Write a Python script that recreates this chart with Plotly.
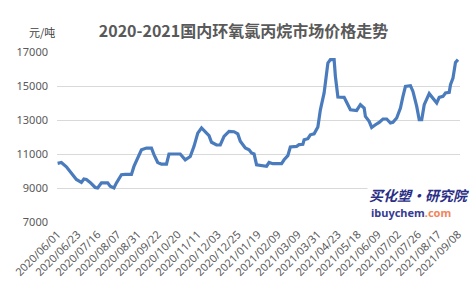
import plotly.graph_objects as go

# business-day index (category position) and price (元/吨)
day_index = [0, 3, 7, 11, 15, 19, 21, 23, 26, 30, 32, 35, 40, 42, 45, 47, 51, 54, 59, 61,
             64, 67, 71, 75, 77, 80, 83, 87, 89, 94, 98, 102, 106, 109, 112, 115, 118, 121, 123, 127,
             130, 133, 137, 141, 144, 146, 150, 153, 155, 157, 159, 162, 167, 169, 172, 179, 181, 184, 186, 191,
             193, 196, 197, 200, 202, 205, 208, 210, 213, 216, 218, 221, 222, 224, 229, 231, 234, 239, 242, 245,
             246, 249, 251, 254, 257, 260, 263, 266, 268, 271, 274, 276, 278, 282, 284, 287, 289, 291, 293, 297,
             300, 303, 305, 308, 310, 313, 314, 316, 318, 320]
price = [10450, 10500, 10250, 9900, 9500, 9330, 9530, 9500, 9330, 9030, 9000, 9300, 9300, 9100, 9000, 9300, 9780, 9800, 9800, 10270,
         10760, 11250, 11350, 11350, 10960, 10500, 10400, 10400, 11000, 11000, 11000, 10660, 10850, 11450, 12230, 12530, 12280, 12080, 11690, 11530,
         11530, 12040, 12330, 12310, 12180, 11750, 11350, 11250, 11060, 11000, 10370, 10320, 10280, 10500, 10430, 10430, 10660, 10900, 11410, 11450,
         11550, 11570, 11840, 11900, 12130, 12190, 12590, 13600, 14590, 16350, 16550, 16550, 15570, 14350, 14330, 14040, 13600, 13560, 13900, 13700,
         13210, 12920, 12560, 12720, 12860, 13060, 13060, 12820, 12860, 13120, 13700, 14390, 14980, 15020, 14680, 13800, 13020, 13020, 13900, 14550,
         14300, 14000, 14330, 14390, 14590, 14630, 15080, 15470, 16390, 16550]

tick_labels = ["2020/06/01", "2020/06/23", "2020/07/16", "2020/08/07", "2020/08/31", "2020/09/22",
               "2020/10/20", "2020/11/11", "2020/12/03", "2020/12/25", "2021/01/19", "2021/02/09",
               "2021/03/09", "2021/03/31", "2021/04/23", "2021/05/18", "2021/06/09", "2021/07/02",
               "2021/07/26", "2021/08/17", "2021/09/08"]
tick_positions = [i * 16 for i in range(len(tick_labels))]
y_ticks = [7000, 9000, 11000, 13000, 15000, 17000]
y_tick_labels = [str(v) for v in y_ticks]

fig = go.Figure()
fig.add_trace(go.Scatter(x=day_index, y=price, mode="lines",
                         line=dict(color="#4a7bbd", width=3.2), hoverinfo="skip"))

fig.update_layout(
    width=475, height=294,
    margin=dict(l=57, r=11, t=52, b=72),
    paper_bgcolor="white", plot_bgcolor="white",
    showlegend=False,
    title=dict(text="<b>2020-2021国内环氧氯丙烷市场价格走势</b>",
               x=243.5 / 475, xanchor="center", y=1 - 31 / 294, yanchor="middle",
               font=dict(family="Noto Sans CJK SC", size=16, color="#595959")),
    xaxis=dict(range=[-0.5, 321.6], tickmode="array", tickvals=tick_positions, ticktext=tick_labels,
               tickangle=-45, showgrid=False, zeroline=False, showline=False,
               ticks="", ticklabelstandoff=3,
               tickfont=dict(family="Noto Sans", size=11, color="#595959")),
    yaxis=dict(range=[7000, 17000], tickmode="array", tickvals=y_ticks, ticktext=y_tick_labels,
               showgrid=True, gridcolor="#d9d9d9", gridwidth=1, zeroline=False, showline=False,
               ticks="", ticklabelstandoff=8,
               tickfont=dict(family="Noto Sans", size=11, color="#595959")),
    annotations=[
        dict(text="元/吨", xref="paper", yref="paper", x=(27 - 57) / 407, y=(222 - 32) / 170,
             xanchor="left", yanchor="middle", showarrow=False,
             font=dict(family="Noto Sans CJK SC", size=11, color="#404040")),
        dict(text="买化塑·研究院", xref="paper", yref="paper", x=(370 - 57) / 407, y=(222 - 195) / 170,
             xanchor="left", yanchor="middle", showarrow=False, bgcolor="white",
             font=dict(family="Noto Sans CJK SC", size=14, color="#2b2e86", weight="bold", style="italic")),
        dict(text="<span style='color:#363b93'>ibuychem</span><span style='color:#f2845c'>.com</span>",
             xref="paper", yref="paper", x=(372 - 57) / 407, y=(222 - 212) / 170,
             xanchor="left", yanchor="middle", showarrow=False,
             font=dict(family="Noto Sans", size=11, weight="bold")),
    ],
)

fig.write_html("out.html")
